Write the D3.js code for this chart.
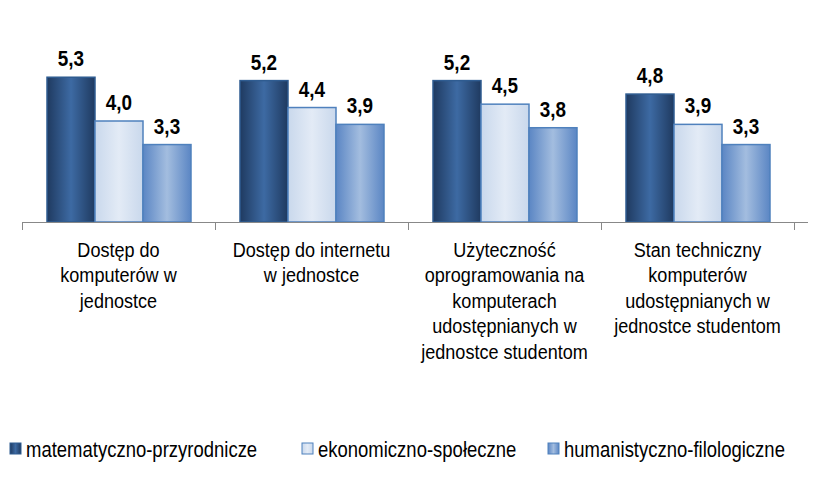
<!DOCTYPE html><html><head><meta charset="utf-8">
<script src="https://cdn.jsdelivr.net/npm/d3@7"></script>
<style>body{margin:0;background:#fff}text{font-family:"Liberation Sans Narrow","Arial Narrow","Liberation Sans",sans-serif}</style>
</head><body><svg id="c" width="815" height="487"></svg><script>
const categories=[["Dostęp do","komputerów w","jednostce"],["Dostęp do internetu","w jednostce"],["Użyteczność","oprogramowania na","komputerach","udostępnianych w","jednostce studentom"],["Stan techniczny","komputerów","udostępnianych w","jednostce studentom"]];
const seriesNames=["matematyczno-przyrodnicze","ekonomiczno-społeczne","humanistyczno-filologiczne"];
const mat=[5.3,5.2,5.2,4.8];
const eko=[4.0,4.4,4.5,3.9];
const hum=[3.3,3.9,3.8,3.3];
const series=[mat,eko,hum];
const SX=0.86;
const svg=d3.select("#c");
const defs=svg.append("defs");
const grads=[["#1f3a60","#3d6aa3","#1f3a60"],["#c9d8ec","#e3ebf6","#c9d8ec"],["#5b86c4","#a3bddf","#5b86c4"]];
const strokes=["#2f5c91","#4f81bd","#4f81bd"];
grads.forEach((g,i)=>{const lg=defs.append("linearGradient").attr("id","g"+i);
lg.append("stop").attr("offset","0%").attr("stop-color",g[0]);
lg.append("stop").attr("offset","50%").attr("stop-color",g[1]);
lg.append("stop").attr("offset","100%").attr("stop-color",g[2]);});
const x0=d3.scaleBand().domain(d3.range(4)).range([22,794]);
const x1=d3.scaleBand().domain(d3.range(3)).range([25,169]);
const y=d3.scaleLinear().domain([1,7]).range([222,20]);
series.forEach((s,i)=>{
 svg.selectAll(null).data(s).enter().append("rect")
 .attr("x",(d,j)=>x0(j)+x1(i)).attr("width",x1.bandwidth()).attr("y",d=>y(d)).attr("height",d=>222-y(d))
 .attr("fill","url(#g"+i+")").attr("stroke",strokes[i]).attr("stroke-width",1.5);
 svg.selectAll(null).data(s).enter().append("text")
 .attr("transform",(d,j)=>`translate(${x0(j)+x1(i)+x1.bandwidth()/2},${y(d)-11}) scale(${SX},1)`)
 .attr("text-anchor","middle")
 .attr("font-size",22).attr("font-weight","bold").text(d=>d.toFixed(1).replace(".",","));
});
svg.append("line").attr("x1",22).attr("x2",808).attr("y1",222.5).attr("y2",222.5).attr("stroke","#888");
[0,1,2,3,4].forEach(k=>{const xx=k<4?x0(k):794;svg.append("line").attr("x1",xx+0.5).attr("x2",xx+0.5).attr("y1",222).attr("y2",230).attr("stroke","#888");});
categories.forEach((lines,j)=>{const t=svg.append("text").attr("text-anchor","middle").attr("font-size",21)
 .attr("transform",`translate(${x0(j)+x0.bandwidth()/2},0) scale(${SX},1)`);
 lines.forEach((l,k)=>t.append("tspan").attr("x",0).attr("y",257+k*25.5).text(l));});
const lx=[10,302,548];
seriesNames.forEach((n,i)=>{
 svg.append("rect").attr("x",lx[i]).attr("y",443).attr("width",11).attr("height",11).attr("fill","url(#g"+i+")").attr("stroke",strokes[i]);
 svg.append("text").attr("transform",`translate(${lx[i]+16},457) scale(${SX},1)`).attr("font-size",21.5).text(n);
});
</script></body></html>
